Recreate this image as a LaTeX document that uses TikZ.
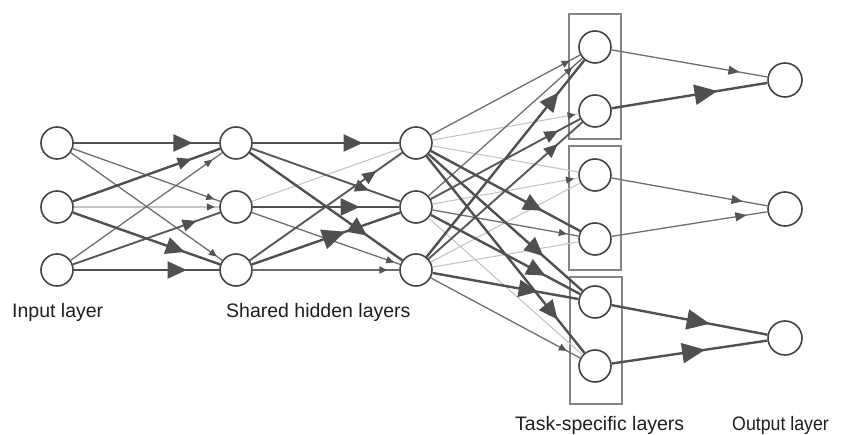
\documentclass[tikz,border=0pt]{standalone}
\usepackage{graphicx}
\usepackage{fontspec}
\setmainfont{Liberation Sans}
\usetikzlibrary{arrows.meta,decorations.markings}
\definecolor{ncol}{HTML}{444444}
\definecolor{thkcol}{HTML}{505050}
\definecolor{medcol}{HTML}{585858}
\definecolor{thncol}{HTML}{6E6E6E}
\definecolor{lgtcol}{HTML}{C4C4C4}
\definecolor{acol}{HTML}{555555}
\definecolor{boxcol}{HTML}{858585}
\definecolor{txtcol}{HTML}{1E1E1E}
\tikzset{
  neuron/.style={circle, draw=ncol, line width=1.6bp, fill=white, minimum size=32bp, inner sep=0pt},
  outn/.style={neuron, minimum size=34bp},
  boxst/.style={draw=boxcol, line width=2bp},
  lbl/.style={font=\fontsize{19.5bp}{23bp}\selectfont, text=txtcol, inner sep=0pt},
  thk/.style={draw=thkcol, line width=2.4bp},
  med/.style={draw=medcol, line width=1.9bp},
  thn/.style={draw=thncol, line width=1.3bp},
  lgt/.style={draw=lgtcol, line width=1.1bp},
  huge/.style={postaction={decorate, decoration={markings, mark=at position #1 with {\arrow{Triangle[length=23bp,width=20bp,color=thkcol]}}}}},
  big/.style={postaction={decorate, decoration={markings, mark=at position #1 with {\arrow{Triangle[length=19bp,width=17bp,color=thkcol]}}}}},
  mid/.style={postaction={decorate, decoration={markings, mark=at position #1 with {\arrow{Triangle[length=14bp,width=12bp,color=thkcol]}}}}},
  msml/.style={postaction={decorate, decoration={markings, mark=at position #1 with {\arrow{Triangle[length=11bp,width=9bp,color=acol]}}}}},
  sml/.style={postaction={decorate, decoration={markings, mark=at position #1 with {\arrow{Triangle[length=8bp,width=7bp,color=acol]}}}}}
}
\begin{document}
\begin{tikzpicture}[x=1bp,y=-1bp]
\useasboundingbox (0,0) rectangle (842,435);
% task boxes
\draw[boxst] (569,14) rectangle (621,139);
\draw[boxst] (569,146) rectangle (621,270);
\draw[boxst] (570,277) rectangle (622,404);
% nodes
\node[neuron] (I1) at (57,143) {};
\node[neuron] (I2) at (57,207) {};
\node[neuron] (I3) at (57,270) {};
\node[neuron] (A1) at (236,143) {};
\node[neuron] (A2) at (236,207) {};
\node[neuron] (A3) at (236,270) {};
\node[neuron] (B1) at (416,143) {};
\node[neuron] (B2) at (416,207) {};
\node[neuron] (B3) at (416,270) {};
\node[neuron] (T1) at (595,47) {};
\node[neuron] (T2) at (595,111) {};
\node[neuron] (T3) at (595,175) {};
\node[neuron] (T4) at (595,239) {};
\node[neuron] (T5) at (595,302) {};
\node[neuron] (T6) at (595,366) {};
\node[outn] (O1) at (785,80) {};
\node[outn] (O2) at (785,209) {};
\node[outn] (O3) at (785,338) {};
% labels
\node[lbl, anchor=base west] (L1) at (12,318) {Input layer};
\node[lbl, anchor=base west] (L2) at (226,318) {Shared hidden layers};
\node[lbl, anchor=base west] (L3) at (515,430) {Task-specific layers};
\node[lbl, anchor=base west] (L4) at (732,430) {\scalebox{0.91}[1]{Output layer}};
% input -> shared 1
\draw[lgt, sml=0.97] (I2) -- (A2);
\draw[thn, sml=0.96] (I1) -- (A2);
\draw[thn, sml=0.965] (I1) -- (A3);
\draw[thn, sml=0.935] (I3) -- (A1);
\draw[med, mid=0.84] (I3) -- (A2);
\draw[thk, big=0.816] (I1) -- (A1);
\draw[thk, mid=0.806] (I2) -- (A1);
\draw[thk, big=0.76] (I2) -- (A3);
\draw[thk, big=0.776] (I3) -- (A3);
% shared 1 -> shared 2
\draw[lgt] (A2) -- (B1);
\draw[thn, sml=0.96] (A2) -- (B3);
\draw[thn, sml=0.92] (A3) -- (B3);
\draw[med, mid=0.79] (A1) -- (B2);
\draw[med, mid=0.83] (A3) -- (B1);
\draw[thk, big=0.75] (A1) -- (B1);
\draw[thk, big=0.77] (A1) -- (B3);
\draw[thk, big=0.73] (A2) -- (B2);
\draw[thk, huge=0.63] (A3) -- (B2);
% shared 2 -> task-specific
\draw[lgt] (B1) -- (T3);
\draw[lgt] (B2) -- (T6);
\draw[lgt] (B3) -- (T3);
\draw[lgt] (B3) -- (T4);
\draw[lgt, sml=0.98] (B1) -- (T2);
\draw[lgt, sml=0.97] (B2) -- (T3);
\draw[thn, sml=0.93] (B1) -- (T1);
\draw[thn, sml=0.934] (B2) -- (T1);
\draw[thn, sml=0.92] (B2) -- (T4);
\draw[thn, sml=0.91] (B3) -- (T6);
\draw[med, mid=0.854] (B2) -- (T2);
\draw[med, mid=0.84] (B3) -- (T2);
\draw[thk, big=0.747] (B1) -- (T4);
\draw[thk, big=0.746] (B1) -- (T5);
\draw[thk, big=0.83] (B1) -- (T6);
\draw[thk, big=0.767] (B2) -- (T5);
\draw[thk, big=0.835] (B3) -- (T1);
\draw[thk, big=0.72] (B3) -- (T5);
% task-specific -> output
\draw[thn, msml=0.82] (T1) -- (O1);
\draw[thk, huge=0.68] (T2) -- (O1);
\draw[thn, msml=0.84] (T3) -- (O2);
\draw[thn, msml=0.865] (T4) -- (O2);
\draw[thk, huge=0.63] (T5) -- (O3);
\draw[thk, huge=0.6] (T6) -- (O3);
\end{tikzpicture}
\end{document}
